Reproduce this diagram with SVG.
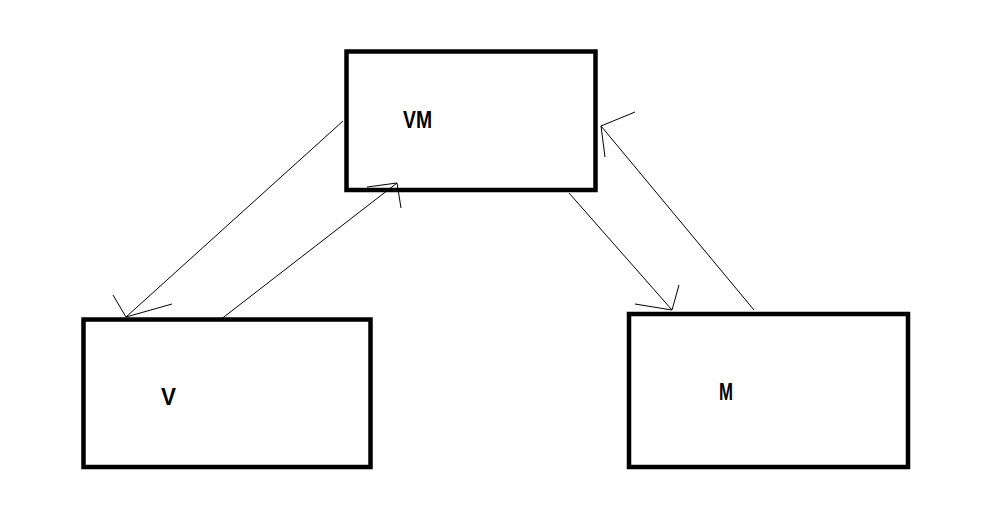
<svg xmlns="http://www.w3.org/2000/svg" width="1003" height="507" viewBox="0 0 1003 507">
<style>
.box{fill:#fff;stroke:#000;stroke-width:4.5}
.lbl{font-family:"Liberation Sans",Arial,sans-serif;font-weight:bold;font-size:24px;fill:#000}
.c{stroke:#000;stroke-width:1;fill:none}
</style>
<rect width="1003" height="507" fill="#fff"/>
<g id="VM"><rect class="box" x="346.5" y="51.5" width="249" height="138.5"/><text class="lbl" x="403" y="127.5" textLength="29" lengthAdjust="spacingAndGlyphs">VM</text></g>
<g id="V"><rect class="box" x="83.5" y="319.5" width="287" height="147.5"/><text class="lbl" x="161" y="404.5" textLength="15" lengthAdjust="spacingAndGlyphs">V</text></g>
<g id="M"><rect class="box" x="629" y="314" width="279" height="153"/><text class="lbl" x="719" y="400" textLength="14" lengthAdjust="spacingAndGlyphs">M</text></g>
<g id="connectors">
<path class="c" d="M343,121 L126,317 M113,295 L126,317 L172,304"/>
<path class="c" d="M220,320 L397,183 M367,187 L397,183 L401,208"/>
<path class="c" d="M569,193 L672,310 M635,304 L672,310 L679,285"/>
<path class="c" d="M754,310 L601,126 M635,112 L601,126 L605,157"/>
</g>
</svg>
